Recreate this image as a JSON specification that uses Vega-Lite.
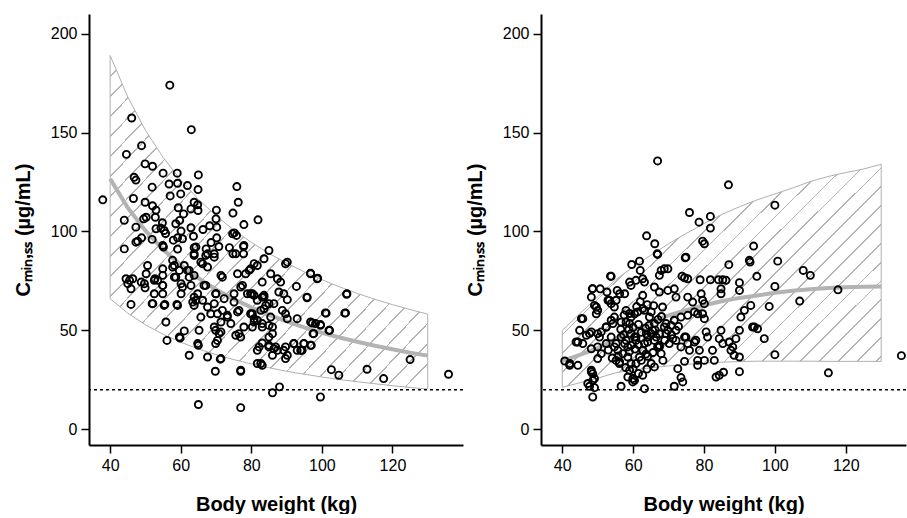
{
  "$schema": "https://vega.github.io/schema/vega-lite/v6.json",
  "background": "white",
  "padding": {"left": 13, "top": 14, "right": 0, "bottom": 0},
  "spacing": 1,
  "config": {
    "view": {"stroke": null},
    "font": "Liberation Sans",
    "axis": {
      "grid": false,
      "domainColor": "black",
      "domainWidth": 2,
      "tickColor": "black",
      "tickWidth": 1.5,
      "tickSize": 8,
      "labelFont": "Liberation Sans",
      "labelFontSize": 16,
      "labelColor": "black",
      "labelPadding": 4,
      "labelFlush": false,
      "titleFont": "Liberation Sans",
      "titleFontSize": 20,
      "titleFontWeight": "bold",
      "titleColor": "black"
    },
    "axisX": {"titlePadding": 21},
    "axisY": {"titlePadding": 17}
  },
  "datasets": {
    "bandA": [
      {"wt": 40, "lo": 66, "hi": 189, "med": 126.6},
      {"wt": 45, "lo": 58.7, "hi": 168, "med": 112},
      {"wt": 50, "lo": 52.8, "hi": 151.2, "med": 100.4},
      {"wt": 55, "lo": 48, "hi": 137.5, "med": 90.9},
      {"wt": 60, "lo": 44, "hi": 126, "med": 83},
      {"wt": 65, "lo": 40.6, "hi": 116.3, "med": 76.4},
      {"wt": 70, "lo": 37.7, "hi": 108, "med": 70.7},
      {"wt": 75, "lo": 35.2, "hi": 100.8, "med": 65.8},
      {"wt": 80, "lo": 33, "hi": 94.5, "med": 61.6},
      {"wt": 85, "lo": 31.1, "hi": 88.9, "med": 57.8},
      {"wt": 90, "lo": 29.3, "hi": 84, "med": 54.5},
      {"wt": 95, "lo": 27.8, "hi": 79.6, "med": 51.5},
      {"wt": 100, "lo": 26.4, "hi": 75.6, "med": 48.8},
      {"wt": 105, "lo": 25.1, "hi": 72, "med": 46.4},
      {"wt": 110, "lo": 24, "hi": 68.7, "med": 44.2},
      {"wt": 115, "lo": 23, "hi": 65.7, "med": 42.2},
      {"wt": 120, "lo": 22, "hi": 63, "med": 40.4},
      {"wt": 125, "lo": 21.1, "hi": 60.5, "med": 38.7},
      {"wt": 130, "lo": 20.3, "hi": 58.2, "med": 37.2}
    ],
    "bandB": [
      {"wt": 40, "lo": 21.2, "hi": 50, "med": 34.5},
      {"wt": 45, "lo": 23.5, "hi": 58.5, "med": 37.6},
      {"wt": 50, "lo": 25.8, "hi": 67, "med": 41},
      {"wt": 55, "lo": 28.5, "hi": 75.5, "med": 45.5},
      {"wt": 60, "lo": 30, "hi": 82, "med": 49.8},
      {"wt": 65, "lo": 31, "hi": 88, "med": 54},
      {"wt": 70, "lo": 32, "hi": 93.8, "med": 57.5},
      {"wt": 75, "lo": 32.8, "hi": 99, "med": 60.2},
      {"wt": 80, "lo": 33.4, "hi": 104, "med": 62.7},
      {"wt": 85, "lo": 33.9, "hi": 108.6, "med": 64.7},
      {"wt": 90, "lo": 34.2, "hi": 112.5, "med": 66.4},
      {"wt": 95, "lo": 34.4, "hi": 116, "med": 67.6},
      {"wt": 100, "lo": 34.4, "hi": 119, "med": 69},
      {"wt": 105, "lo": 34.4, "hi": 122, "med": 70},
      {"wt": 110, "lo": 34.4, "hi": 125.3, "med": 70.8},
      {"wt": 115, "lo": 34.3, "hi": 127.8, "med": 71.4},
      {"wt": 120, "lo": 34.3, "hi": 129.8, "med": 71.8},
      {"wt": 125, "lo": 34.3, "hi": 131.6, "med": 72.1},
      {"wt": 130, "lo": 34.3, "hi": 134, "med": 72.2}
    ],
    "ptsA": [
      {"wt":37.9,"c":116},{"wt":56.9,"c":174},{"wt":46.1,"c":157.4},{"wt":63,"c":151.5},{"wt":44.6,"c":139},{"wt":48.9,"c":143.4},
      {"wt":49.9,"c":134.2},{"wt":52,"c":133},{"wt":55,"c":129.5},{"wt":59,"c":129.5},{"wt":65,"c":128.6},{"wt":46.8,"c":127.4},
      {"wt":47.3,"c":126},{"wt":51.9,"c":122.4},{"wt":56.7,"c":124},{"wt":59.1,"c":124.4},{"wt":61.9,"c":123.2},{"wt":64.9,"c":121.2},
      {"wt":75.9,"c":122.7},{"wt":46.6,"c":116.7},{"wt":49.9,"c":114.8},{"wt":57,"c":118},{"wt":60,"c":119},{"wt":52,"c":113},
      {"wt":53,"c":110.8},{"wt":59.3,"c":112},{"wt":63.8,"c":114.8},{"wt":64.8,"c":113.5},{"wt":64.9,"c":110.6},{"wt":62.9,"c":111.4},
      {"wt":70.1,"c":110.8},{"wt":76.3,"c":114.8},{"wt":74.8,"c":109.3},{"wt":60.8,"c":108.9},{"wt":52.8,"c":107.2},{"wt":49.5,"c":106.4},
      {"wt":44,"c":105.7},{"wt":54.8,"c":104.4},{"wt":59.7,"c":105.6},{"wt":70,"c":106.4},{"wt":77.9,"c":103.5},{"wt":81.9,"c":105.9},
      {"wt":47.3,"c":102.2},{"wt":54.4,"c":101.7},{"wt":55.3,"c":100.5},{"wt":60.1,"c":100.2},{"wt":62.9,"c":101.9},{"wt":66.3,"c":101},
      {"wt":68.2,"c":102.9},{"wt":70.2,"c":102.2},{"wt":55.7,"c":99},{"wt":63.6,"c":97.6},{"wt":75.8,"c":98},{"wt":75.2,"c":99.3},
      {"wt":51.9,"c":96},{"wt":48.9,"c":96.8},{"wt":47.8,"c":95.1},{"wt":57.9,"c":95.6},{"wt":59.1,"c":96.8},{"wt":68.6,"c":94.4},
      {"wt":70.2,"c":96.8},{"wt":44,"c":91.2},{"wt":55.1,"c":92.1},{"wt":59.1,"c":91.1},{"wt":63.8,"c":91.8},{"wt":67.2,"c":91.2},
      {"wt":70.8,"c":92.4},{"wt":73.8,"c":91.8},{"wt":77.8,"c":92.4},{"wt":74.8,"c":88.7},{"wt":77.8,"c":88.7},{"wt":85,"c":90.4},
      {"wt":63.8,"c":88.7},{"wt":67.6,"c":88.7},
      {"wt":57.7,"c":85.4},{"wt":58.2,"c":82.8},{"wt":59.6,"c":80.3},{"wt":58.2,"c":76.9},{"wt":60.1,"c":73.6},{"wt":60.1,"c":68.5},
      {"wt":60.5,"c":71.9},{"wt":61.9,"c":80.3},{"wt":62.4,"c":76.9},{"wt":63.8,"c":77.8},{"wt":62.9,"c":72.7},{"wt":63.8,"c":66.8},
      {"wt":64.8,"c":68.5},{"wt":63.8,"c":62.6},{"wt":61,"c":82.8},{"wt":63.8,"c":87.9},{"wt":65.7,"c":84.5},{"wt":67.6,"c":82},
      {"wt":67.1,"c":87.9},{"wt":66.2,"c":65.2},{"wt":66.6,"c":72.7},{"wt":65.7,"c":56.7},{"wt":67.6,"c":61.8},{"wt":69.5,"c":63.5},
      {"wt":69.9,"c":68.5},{"wt":70.4,"c":58.4},{"wt":71.4,"c":54.2},{"wt":71.8,"c":60.1},{"wt":72.3,"c":66},{"wt":69.9,"c":50},
      {"wt":70.4,"c":44.9},{"wt":71.4,"c":49.2},{"wt":73.2,"c":56.7},{"wt":74.2,"c":53.4},{"wt":75.1,"c":64.3},{"wt":71.4,"c":77.8},
      {"wt":71.8,"c":76.9},{"wt":69.5,"c":88.7},{"wt":76.1,"c":78.6},{"wt":75.1,"c":68.5},{"wt":77,"c":71.9},{"wt":76.1,"c":59.3},
      {"wt":78.9,"c":68.5},{"wt":78.4,"c":78.6},{"wt":79.8,"c":81.1},{"wt":80.8,"c":83.7},{"wt":81.7,"c":82.8},{"wt":83.6,"c":86.2},
      {"wt":79.8,"c":68.5},{"wt":80.8,"c":67.7},{"wt":81.7,"c":65.2},{"wt":79.8,"c":58.4},{"wt":80.8,"c":55.9},{"wt":81.7,"c":55.1},
      {"wt":82.7,"c":60.1},{"wt":83.6,"c":66.8},{"wt":83.6,"c":60.9},{"wt":84.1,"c":62.6},{"wt":85.5,"c":78.6},{"wt":83.1,"c":74.4},
      {"wt":80.8,"c":54.2},{"wt":77.9,"c":51.7},{"wt":77,"c":46.6},{"wt":83.1,"c":53.4},{"wt":85,"c":52.5},{"wt":86,"c":51.7},
      {"wt":86,"c":48.3},{"wt":86.4,"c":63.5},{"wt":87.4,"c":76.1},{"wt":88.3,"c":74.4},{"wt":87.8,"c":69.4},{"wt":89.2,"c":68.5},
      {"wt":90.2,"c":65.5},{"wt":90.2,"c":84.5},{"wt":89.7,"c":83.7},{"wt":88.8,"c":60.1},{"wt":89.7,"c":58.4},{"wt":90.2,"c":55.9},
      {"wt":93,"c":55.9},{"wt":95.8,"c":66.8},{"wt":96.8,"c":78.6},{"wt":98.7,"c":76.1},{"wt":96.8,"c":54.2},{"wt":98.2,"c":53.4},
      {"wt":99.6,"c":52.5},{"wt":102,"c":50},{"wt":97.7,"c":48.3},{"wt":101,"c":58.8},{"wt":106.7,"c":58.8},{"wt":107.1,"c":68.5},
      {"wt":83.1,"c":43.6},{"wt":85,"c":42.4},{"wt":86.4,"c":40.7},{"wt":86,"c":37.4},{"wt":86.9,"c":41.6},{"wt":81.7,"c":39.9},
      {"wt":81.7,"c":33.2},{"wt":83.1,"c":32.3},{"wt":89.2,"c":39.9},{"wt":89.7,"c":35.7},{"wt":90.2,"c":37.4},{"wt":92.1,"c":43.3},
      {"wt":93,"c":39.9},{"wt":94.4,"c":39.9},{"wt":94.9,"c":43.3},{"wt":96.8,"c":42.4},{"wt":89.7,"c":41.6},
      {"wt":50.6,"c":82.8},{"wt":44.5,"c":76.1},{"wt":46.4,"c":76.1},{"wt":45,"c":73.6},{"wt":45.9,"c":71},{"wt":48.8,"c":74.4},
      {"wt":50.2,"c":78.6},{"wt":49.9,"c":71.5},{"wt":52.7,"c":76.1},{"wt":53.5,"c":75.3},{"wt":54.9,"c":81.1},{"wt":54.9,"c":77.8},
      {"wt":54.9,"c":72.7},{"wt":54.9,"c":68.5},{"wt":52.5,"c":68.5},{"wt":51.9,"c":63.5},{"wt":45.9,"c":63.1},{"wt":55.5,"c":63.1},
      {"wt":58.9,"c":63.1},{"wt":55.8,"c":54.2},{"wt":56.1,"c":44.9},{"wt":61,"c":49.7},{"wt":59.8,"c":46.1},{"wt":62.4,"c":37.4},
      {"wt":65,"c":42.4},{"wt":67.6,"c":36.5},{"wt":71.2,"c":35.4},{"wt":69.8,"c":29.3},{"wt":77,"c":29.3},{"wt":65,"c":12.5},
      {"wt":77,"c":10.9},{"wt":86,"c":18.4},{"wt":88,"c":21.4},{"wt":99.6,"c":16.3},{"wt":102.7,"c":30.1},{"wt":104.8,"c":27.3},
      {"wt":112.8,"c":30.3},{"wt":117.5,"c":25.6},{"wt":125,"c":35.2},{"wt":135.9,"c":27.8},
      {"wt":59.1,"c":62.6},{"wt":64.3,"c":65.2},{"wt":67.1,"c":72.7},{"wt":70,"c":68.5},{"wt":68.5,"c":58.4},{"wt":69.5,"c":51.7},
      {"wt":70.9,"c":48.3},{"wt":73.2,"c":57.6},{"wt":76.5,"c":60.1},{"wt":75.6,"c":47.5},{"wt":80.3,"c":58.4},{"wt":83.1,"c":51.7},
      {"wt":85,"c":41.6},{"wt":87.4,"c":39.9},{"wt":65.2,"c":50},{"wt":63.4,"c":64.3},{"wt":58.6,"c":76.9},{"wt":57.7,"c":82},
      {"wt":62.4,"c":80.3},{"wt":66.2,"c":83.7},{"wt":69.5,"c":87},{"wt":64.3,"c":92.1},{"wt":60.5,"c":96.3},{"wt":54.9,"c":92.9},
      {"wt":53,"c":101.4},{"wt":50.2,"c":107.2},{"wt":58.6,"c":103.9},{"wt":47.3,"c":94.6},{"wt":45.5,"c":75.3},{"wt":49.7,"c":73.6},
      {"wt":52.5,"c":75.3},{"wt":54.9,"c":72.7},{"wt":52.1,"c":63.5},{"wt":55.3,"c":62.6},{"wt":77.5,"c":72.7},{"wt":79.4,"c":80.3},
      {"wt":75.6,"c":88.7},{"wt":77.9,"c":92.9},{"wt":74.7,"c":98.8},{"wt":80.3,"c":68.5},{"wt":83.6,"c":67.7},{"wt":85,"c":63.5},
      {"wt":85.5,"c":56.7},{"wt":80.3,"c":51.7},{"wt":85,"c":46.6},{"wt":82.2,"c":41.6},{"wt":82.7,"c":33.2},{"wt":77,"c":29.8},
      {"wt":71.4,"c":35.7},{"wt":59.6,"c":46.6},{"wt":64.8,"c":43.3},{"wt":69.9,"c":43.3},{"wt":76.5,"c":48.3},
      {"wt":96.8,"c":78.9},{"wt":98.8,"c":76.4},{"wt":92.8,"c":72.2},{"wt":95.8,"c":66.5},{"wt":107,"c":68.2},{"wt":106.5,"c":58.7},
      {"wt":101.2,"c":58.7},{"wt":97.3,"c":53.7},{"wt":99.6,"c":52.9},{"wt":102.2,"c":50},{"wt":97.5,"c":48.3},{"wt":94.9,"c":43.3},
      {"wt":97,"c":42.4},{"wt":92,"c":43.3},{"wt":94,"c":39.9},{"wt":83.1,"c":66.8}
    ],
    "ptsB": [
      {"wt":66.9,"c":135.7},{"wt":86.9,"c":123.6},{"wt":100,"c":113.3},{"wt":75.9,"c":109.6},{"wt":81.8,"c":107.6},{"wt":78.6,"c":104.7},
      {"wt":81.8,"c":101.7},{"wt":63.8,"c":97.8},{"wt":66.1,"c":93.8},{"wt":79.6,"c":95.1},{"wt":80.1,"c":93.8},{"wt":94,"c":92.6},
      {"wt":66.9,"c":88.4},{"wt":74.7,"c":86.7},{"wt":61.8,"c":85},{"wt":92.8,"c":85.4},{"wt":100.8,"c":85},
      {"wt":59.6,"c":83.3},{"wt":62,"c":80.3},{"wt":87,"c":83.2},{"wt":93,"c":84.5},{"wt":108,"c":80.3},{"wt":110,"c":77.8},
      {"wt":94.9,"c":77.3},{"wt":53.6,"c":77.4},{"wt":67.9,"c":80.3},{"wt":68.8,"c":81.1},{"wt":69.8,"c":81.1},{"wt":67.4,"c":77.8},
      {"wt":73.8,"c":77.4},{"wt":74.5,"c":76.6},{"wt":75.4,"c":76.1},{"wt":78.9,"c":75.6},{"wt":81.8,"c":75.6},{"wt":84.1,"c":75.6},
      {"wt":85.3,"c":75.6},{"wt":86.2,"c":75.3},{"wt":90,"c":74.1},{"wt":90,"c":70.2},{"wt":84.8,"c":71},{"wt":84.8,"c":68.5},
      {"wt":100,"c":72.2},{"wt":117.8,"c":70.5},{"wt":48.5,"c":71},{"wt":50.7,"c":71},{"wt":52.6,"c":69.4},{"wt":55.5,"c":70.2},
      {"wt":56.2,"c":68.5},{"wt":57.6,"c":68.5},{"wt":55.2,"c":65.2},{"wt":59,"c":74.4},{"wt":59.4,"c":72.7},{"wt":60.8,"c":75.3},
      {"wt":62.7,"c":76.1},{"wt":63.2,"c":74.4},{"wt":48.2,"c":66.8},{"wt":49.1,"c":62.6},{"wt":50,"c":60.1},{"wt":49.6,"c":58.4},
      {"wt":45.8,"c":55.9},{"wt":52.9,"c":65.2},{"wt":53.8,"c":63.5},{"wt":54.7,"c":61.8},
      {"wt":62.7,"c":67.7},{"wt":66,"c":71.9},{"wt":67.4,"c":69.4},{"wt":69.8,"c":70.2},{"wt":71.6,"c":71},{"wt":72.1,"c":66.8},
      {"wt":75.4,"c":66.8},{"wt":76.8,"c":64.3},{"wt":79.2,"c":68.5},{"wt":79.6,"c":65.2},{"wt":80.1,"c":63.5},{"wt":77.3,"c":59.3},
      {"wt":78.2,"c":58.4},{"wt":79.6,"c":58.4},{"wt":80.1,"c":55.9},{"wt":75.4,"c":57.6},{"wt":73.5,"c":56.7},{"wt":71.6,"c":55.1},
      {"wt":70.7,"c":52.5},{"wt":68.8,"c":51.7},{"wt":66,"c":53.4},{"wt":65.1,"c":59.3},{"wt":63.2,"c":60.1},{"wt":61.3,"c":59.3},
      {"wt":60.4,"c":58.4},{"wt":59.4,"c":56.7},{"wt":58,"c":54.2},{"wt":56.6,"c":54.2},{"wt":54.7,"c":56.7},{"wt":53.8,"c":55.1},
      {"wt":52.4,"c":51.7},{"wt":51,"c":49.2},{"wt":50,"c":48.3},{"wt":48.2,"c":49.2},{"wt":46.8,"c":47.5},{"wt":44.9,"c":50},
      {"wt":43.9,"c":44.1},{"wt":42.1,"c":32.3},{"wt":44.4,"c":32.3},{"wt":40.7,"c":34.5},{"wt":48.2,"c":40.7},{"wt":50,"c":41.6},
      {"wt":51,"c":38.2},{"wt":48.2,"c":29.8},{"wt":48.6,"c":24.7},{"wt":47.2,"c":23.1},{"wt":49.1,"c":25.6},{"wt":47.7,"c":21.7},
      {"wt":50,"c":35.7},{"wt":52.4,"c":43.3},{"wt":53.8,"c":46.6},{"wt":54.7,"c":41.6},{"wt":55.7,"c":39.9},{"wt":56.2,"c":34},
      {"wt":57.6,"c":43.3},{"wt":58.5,"c":41.6},{"wt":56.6,"c":46.6},{"wt":59.4,"c":48.3},{"wt":60.4,"c":46.6},{"wt":60.8,"c":44.9},
      {"wt":58.5,"c":36.5},{"wt":59.4,"c":33.2},{"wt":59,"c":29.8},{"wt":59.9,"c":25.6},{"wt":60.4,"c":24.7},{"wt":62.3,"c":34.8},
      {"wt":62.7,"c":39.9},{"wt":63.2,"c":43.3},{"wt":64.1,"c":46.6},{"wt":65.1,"c":48.3},{"wt":66,"c":44.9},{"wt":66.9,"c":41.6},
      {"wt":67.9,"c":38.2},{"wt":68.4,"c":34.8},{"wt":67.4,"c":42.4},{"wt":69.3,"c":48.3},{"wt":69.8,"c":50},{"wt":71.2,"c":45.8},
      {"wt":72.1,"c":44.9},{"wt":74.5,"c":46.6},{"wt":73.5,"c":41.6},{"wt":75.4,"c":43.3},{"wt":75.9,"c":39.9},{"wt":77.3,"c":44.1},
      {"wt":78.7,"c":39.9},{"wt":80.6,"c":49.2},{"wt":81,"c":46.6},{"wt":78.2,"c":34.8},{"wt":80.1,"c":34.8},{"wt":82.9,"c":34.8},
      {"wt":82.4,"c":39.9},{"wt":84.3,"c":45.8},{"wt":84.8,"c":50},{"wt":85.3,"c":43.3},{"wt":88.1,"c":41.6},{"wt":88.5,"c":37.4},
      {"wt":90,"c":36.5},{"wt":87.6,"c":39.9},{"wt":87.1,"c":44.1},{"wt":89,"c":45.8},{"wt":90,"c":50},{"wt":90.4,"c":56.7},
      {"wt":91.4,"c":60.1},{"wt":93.2,"c":62.6},{"wt":93.7,"c":51.7},{"wt":94.2,"c":51.7},{"wt":95.1,"c":50.8},{"wt":97,"c":45.8},
      {"wt":98.4,"c":62.1},{"wt":100,"c":37.7},{"wt":107,"c":64.8},{"wt":115.1,"c":28.5},{"wt":135.7,"c":37.2},{"wt":90,"c":29.1},
      {"wt":85.5,"c":28.8},{"wt":84.3,"c":27.3},{"wt":83.4,"c":26.4},{"wt":78.2,"c":32.3},{"wt":74.5,"c":34.3},{"wt":72.6,"c":30.6},
      {"wt":73.5,"c":26.1},{"wt":74,"c":23.9},{"wt":71.6,"c":21.7},{"wt":63.2,"c":20.5},{"wt":62.7,"c":27.3},{"wt":56.6,"c":21.7},
      {"wt":58.5,"c":26.4},{"wt":59.9,"c":23.9},{"wt":49.1,"c":21},{"wt":48.6,"c":16.3},{"wt":48.2,"c":29},{"wt":64.1,"c":36.9},
      {"wt":65.1,"c":33.2},{"wt":66,"c":31.5},
      {"wt":58,"c":45},{"wt":59.4,"c":42.4},{"wt":60.8,"c":46.6},{"wt":62.7,"c":39.9},{"wt":64.1,"c":44.1},{"wt":65.5,"c":50},
      {"wt":67.4,"c":48.3},{"wt":69.3,"c":53.4},{"wt":67.4,"c":41.6},{"wt":70.2,"c":43.3},{"wt":55.2,"c":43.3},{"wt":56.1,"c":33.2},
      {"wt":55.2,"c":34.8},{"wt":60.8,"c":33.2},{"wt":61.8,"c":36.5},{"wt":57.1,"c":38.2},{"wt":54.3,"c":53.4},{"wt":52.4,"c":51.7},
      {"wt":50.5,"c":46.6},{"wt":47.7,"c":48.3},{"wt":45.8,"c":43.3},{"wt":44.4,"c":44.1},{"wt":42.1,"c":33.2},{"wt":48.6,"c":28.1},
      {"wt":64.6,"c":56.7},{"wt":68.3,"c":61.8},{"wt":72.1,"c":50},{"wt":74.9,"c":46.6},{"wt":77.7,"c":45},{"wt":66.5,"c":46.6},
      {"wt":63.7,"c":48.3},{"wt":59,"c":53.4},{"wt":62.7,"c":61},{"wt":58,"c":60.1},{"wt":53.3,"c":65.2},{"wt":49.6,"c":61.8},
      {"wt":45.4,"c":55.9},{"wt":66.8,"c":88.7},{"wt":53.8,"c":77.3},{"wt":48.6,"c":71.1},{"wt":74.9,"c":87},
      {"wt":56.5,"c":50.5},{"wt":57.3,"c":47.8},{"wt":58.8,"c":50.5},{"wt":60,"c":51.5},{"wt":61.5,"c":53},{"wt":62.3,"c":49},
      {"wt":63.5,"c":51},{"wt":64.5,"c":52.5},{"wt":66.2,"c":50.2},{"wt":67,"c":55.5},{"wt":68,"c":57},{"wt":57.5,"c":57.8},
      {"wt":59,"c":58.5},{"wt":61,"c":62},{"wt":62,"c":64.5},{"wt":64,"c":63},{"wt":65.8,"c":62.5},{"wt":60.5,"c":40.5},
      {"wt":61.5,"c":42.8},{"wt":63.6,"c":38},{"wt":58.9,"c":39.2},{"wt":57.9,"c":31.2},{"wt":60,"c":30.5},{"wt":61.5,"c":28.2},
      {"wt":63.9,"c":30.4},{"wt":65.6,"c":38.8},{"wt":68.9,"c":45},{"wt":70.8,"c":47.8},{"wt":72.8,"c":52},{"wt":55.8,"c":37},
      {"wt":54.1,"c":36},{"wt":53,"c":40}
    ]
  },
  "hconcat": [
    {
      "width": 374,
      "height": 431,
      "layer": [
        {
          "data": {"name": "bandA"},
          "mark": {
            "type": "area",
            "stroke": "#b0b0b0",
            "strokeWidth": 1,
            "fill": {
              "gradient": "linear", "x1": 0, "y1": 0, "x2": 1, "y2": 1,
              "stops": [
                {"offset":0,"color":"#ffffff"},
                {"offset":0.03,"color":"#ffffff"},{"offset":0.03,"color":"#b4b4b4"},{"offset":0.0328,"color":"#b4b4b4"},{"offset":0.0328,"color":"#ffffff"},
                {"offset":0.06,"color":"#ffffff"},{"offset":0.06,"color":"#b4b4b4"},{"offset":0.0628,"color":"#b4b4b4"},{"offset":0.0628,"color":"#ffffff"},
                {"offset":0.09,"color":"#ffffff"},{"offset":0.09,"color":"#b4b4b4"},{"offset":0.0928,"color":"#b4b4b4"},{"offset":0.0928,"color":"#ffffff"},
                {"offset":0.12,"color":"#ffffff"},{"offset":0.12,"color":"#b4b4b4"},{"offset":0.1228,"color":"#b4b4b4"},{"offset":0.1228,"color":"#ffffff"},
                {"offset":0.15,"color":"#ffffff"},{"offset":0.15,"color":"#b4b4b4"},{"offset":0.1528,"color":"#b4b4b4"},{"offset":0.1528,"color":"#ffffff"},
                {"offset":0.18,"color":"#ffffff"},{"offset":0.18,"color":"#b4b4b4"},{"offset":0.1828,"color":"#b4b4b4"},{"offset":0.1828,"color":"#ffffff"},
                {"offset":0.21,"color":"#ffffff"},{"offset":0.21,"color":"#b4b4b4"},{"offset":0.2128,"color":"#b4b4b4"},{"offset":0.2128,"color":"#ffffff"},
                {"offset":0.24,"color":"#ffffff"},{"offset":0.24,"color":"#b4b4b4"},{"offset":0.2428,"color":"#b4b4b4"},{"offset":0.2428,"color":"#ffffff"},
                {"offset":0.27,"color":"#ffffff"},{"offset":0.27,"color":"#b4b4b4"},{"offset":0.2728,"color":"#b4b4b4"},{"offset":0.2728,"color":"#ffffff"},
                {"offset":0.30,"color":"#ffffff"},{"offset":0.30,"color":"#b4b4b4"},{"offset":0.3028,"color":"#b4b4b4"},{"offset":0.3028,"color":"#ffffff"},
                {"offset":0.33,"color":"#ffffff"},{"offset":0.33,"color":"#b4b4b4"},{"offset":0.3328,"color":"#b4b4b4"},{"offset":0.3328,"color":"#ffffff"},
                {"offset":0.36,"color":"#ffffff"},{"offset":0.36,"color":"#b4b4b4"},{"offset":0.3628,"color":"#b4b4b4"},{"offset":0.3628,"color":"#ffffff"},
                {"offset":0.39,"color":"#ffffff"},{"offset":0.39,"color":"#b4b4b4"},{"offset":0.3928,"color":"#b4b4b4"},{"offset":0.3928,"color":"#ffffff"},
                {"offset":0.42,"color":"#ffffff"},{"offset":0.42,"color":"#b4b4b4"},{"offset":0.4228,"color":"#b4b4b4"},{"offset":0.4228,"color":"#ffffff"},
                {"offset":0.45,"color":"#ffffff"},{"offset":0.45,"color":"#b4b4b4"},{"offset":0.4528,"color":"#b4b4b4"},{"offset":0.4528,"color":"#ffffff"},
                {"offset":0.48,"color":"#ffffff"},{"offset":0.48,"color":"#b4b4b4"},{"offset":0.4828,"color":"#b4b4b4"},{"offset":0.4828,"color":"#ffffff"},
                {"offset":0.51,"color":"#ffffff"},{"offset":0.51,"color":"#b4b4b4"},{"offset":0.5128,"color":"#b4b4b4"},{"offset":0.5128,"color":"#ffffff"},
                {"offset":0.54,"color":"#ffffff"},{"offset":0.54,"color":"#b4b4b4"},{"offset":0.5428,"color":"#b4b4b4"},{"offset":0.5428,"color":"#ffffff"},
                {"offset":0.57,"color":"#ffffff"},{"offset":0.57,"color":"#b4b4b4"},{"offset":0.5728,"color":"#b4b4b4"},{"offset":0.5728,"color":"#ffffff"},
                {"offset":0.60,"color":"#ffffff"},{"offset":0.60,"color":"#b4b4b4"},{"offset":0.6028,"color":"#b4b4b4"},{"offset":0.6028,"color":"#ffffff"},
                {"offset":0.63,"color":"#ffffff"},{"offset":0.63,"color":"#b4b4b4"},{"offset":0.6328,"color":"#b4b4b4"},{"offset":0.6328,"color":"#ffffff"},
                {"offset":0.66,"color":"#ffffff"},{"offset":0.66,"color":"#b4b4b4"},{"offset":0.6628,"color":"#b4b4b4"},{"offset":0.6628,"color":"#ffffff"},
                {"offset":0.69,"color":"#ffffff"},{"offset":0.69,"color":"#b4b4b4"},{"offset":0.6928,"color":"#b4b4b4"},{"offset":0.6928,"color":"#ffffff"},
                {"offset":0.72,"color":"#ffffff"},{"offset":0.72,"color":"#b4b4b4"},{"offset":0.7228,"color":"#b4b4b4"},{"offset":0.7228,"color":"#ffffff"},
                {"offset":0.75,"color":"#ffffff"},{"offset":0.75,"color":"#b4b4b4"},{"offset":0.7528,"color":"#b4b4b4"},{"offset":0.7528,"color":"#ffffff"},
                {"offset":0.78,"color":"#ffffff"},{"offset":0.78,"color":"#b4b4b4"},{"offset":0.7828,"color":"#b4b4b4"},{"offset":0.7828,"color":"#ffffff"},
                {"offset":0.81,"color":"#ffffff"},{"offset":0.81,"color":"#b4b4b4"},{"offset":0.8128,"color":"#b4b4b4"},{"offset":0.8128,"color":"#ffffff"},
                {"offset":0.84,"color":"#ffffff"},{"offset":0.84,"color":"#b4b4b4"},{"offset":0.8428,"color":"#b4b4b4"},{"offset":0.8428,"color":"#ffffff"},
                {"offset":0.87,"color":"#ffffff"},{"offset":0.87,"color":"#b4b4b4"},{"offset":0.8728,"color":"#b4b4b4"},{"offset":0.8728,"color":"#ffffff"},
                {"offset":0.90,"color":"#ffffff"},{"offset":0.90,"color":"#b4b4b4"},{"offset":0.9028,"color":"#b4b4b4"},{"offset":0.9028,"color":"#ffffff"},
                {"offset":0.93,"color":"#ffffff"},{"offset":0.93,"color":"#b4b4b4"},{"offset":0.9328,"color":"#b4b4b4"},{"offset":0.9328,"color":"#ffffff"},
                {"offset":0.96,"color":"#ffffff"},{"offset":0.96,"color":"#b4b4b4"},{"offset":0.9628,"color":"#b4b4b4"},{"offset":0.9628,"color":"#ffffff"},
                {"offset":1,"color":"#ffffff"}
              ]
            }
          },
          "encoding": {
            "x": {"field": "wt", "type": "quantitative", "scale": {"domain": [34, 140], "nice": false, "zero": false},
                  "axis": {"title": "Body weight (kg)", "values": [40, 60, 80, 100, 120]}},
            "y": {"field": "hi", "type": "quantitative", "scale": {"domain": [-8, 210], "nice": false, "zero": false},
                  "axis": {"title": "Cₘᵢₙ,ₛₛ (µg/mL)", "values": [0, 50, 100, 150, 200]}},
            "y2": {"field": "lo"}
          }
        },
        {
          "data": {"values": [{"ref": 20}]},
          "mark": {"type": "rule", "color": "black", "strokeWidth": 1.5, "strokeDash": [3, 3]},
          "encoding": {"y": {"field": "ref", "type": "quantitative"}}
        },
        {
          "data": {"name": "bandA"},
          "mark": {"type": "line", "color": "#b3b3b3", "strokeWidth": 4},
          "encoding": {
            "x": {"field": "wt", "type": "quantitative"},
            "y": {"field": "med", "type": "quantitative"}
          }
        },
        {
          "data": {"name": "ptsA"},
          "mark": {"type": "point", "shape": "circle", "filled": false, "color": "black", "strokeWidth": 1.9, "size": 50, "opacity": 1},
          "encoding": {
            "x": {"field": "wt", "type": "quantitative"},
            "y": {"field": "c", "type": "quantitative"}
          }
        }
      ]
    },
    {
      "width": 365,
      "height": 431,
      "layer": [
        {
          "data": {"name": "bandB"},
          "mark": {
            "type": "area",
            "stroke": "#b0b0b0",
            "strokeWidth": 1,
            "fill": {
              "gradient": "linear", "x1": 0, "y1": 0, "x2": 1.324, "y2": 0.93,
              "stops": [
                {"offset":0,"color":"#ffffff"},
                {"offset":0.03,"color":"#ffffff"},{"offset":0.03,"color":"#b4b4b4"},{"offset":0.0328,"color":"#b4b4b4"},{"offset":0.0328,"color":"#ffffff"},
                {"offset":0.06,"color":"#ffffff"},{"offset":0.06,"color":"#b4b4b4"},{"offset":0.0628,"color":"#b4b4b4"},{"offset":0.0628,"color":"#ffffff"},
                {"offset":0.09,"color":"#ffffff"},{"offset":0.09,"color":"#b4b4b4"},{"offset":0.0928,"color":"#b4b4b4"},{"offset":0.0928,"color":"#ffffff"},
                {"offset":0.12,"color":"#ffffff"},{"offset":0.12,"color":"#b4b4b4"},{"offset":0.1228,"color":"#b4b4b4"},{"offset":0.1228,"color":"#ffffff"},
                {"offset":0.15,"color":"#ffffff"},{"offset":0.15,"color":"#b4b4b4"},{"offset":0.1528,"color":"#b4b4b4"},{"offset":0.1528,"color":"#ffffff"},
                {"offset":0.18,"color":"#ffffff"},{"offset":0.18,"color":"#b4b4b4"},{"offset":0.1828,"color":"#b4b4b4"},{"offset":0.1828,"color":"#ffffff"},
                {"offset":0.21,"color":"#ffffff"},{"offset":0.21,"color":"#b4b4b4"},{"offset":0.2128,"color":"#b4b4b4"},{"offset":0.2128,"color":"#ffffff"},
                {"offset":0.24,"color":"#ffffff"},{"offset":0.24,"color":"#b4b4b4"},{"offset":0.2428,"color":"#b4b4b4"},{"offset":0.2428,"color":"#ffffff"},
                {"offset":0.27,"color":"#ffffff"},{"offset":0.27,"color":"#b4b4b4"},{"offset":0.2728,"color":"#b4b4b4"},{"offset":0.2728,"color":"#ffffff"},
                {"offset":0.30,"color":"#ffffff"},{"offset":0.30,"color":"#b4b4b4"},{"offset":0.3028,"color":"#b4b4b4"},{"offset":0.3028,"color":"#ffffff"},
                {"offset":0.33,"color":"#ffffff"},{"offset":0.33,"color":"#b4b4b4"},{"offset":0.3328,"color":"#b4b4b4"},{"offset":0.3328,"color":"#ffffff"},
                {"offset":0.36,"color":"#ffffff"},{"offset":0.36,"color":"#b4b4b4"},{"offset":0.3628,"color":"#b4b4b4"},{"offset":0.3628,"color":"#ffffff"},
                {"offset":0.39,"color":"#ffffff"},{"offset":0.39,"color":"#b4b4b4"},{"offset":0.3928,"color":"#b4b4b4"},{"offset":0.3928,"color":"#ffffff"},
                {"offset":0.42,"color":"#ffffff"},{"offset":0.42,"color":"#b4b4b4"},{"offset":0.4228,"color":"#b4b4b4"},{"offset":0.4228,"color":"#ffffff"},
                {"offset":0.45,"color":"#ffffff"},{"offset":0.45,"color":"#b4b4b4"},{"offset":0.4528,"color":"#b4b4b4"},{"offset":0.4528,"color":"#ffffff"},
                {"offset":0.48,"color":"#ffffff"},{"offset":0.48,"color":"#b4b4b4"},{"offset":0.4828,"color":"#b4b4b4"},{"offset":0.4828,"color":"#ffffff"},
                {"offset":0.51,"color":"#ffffff"},{"offset":0.51,"color":"#b4b4b4"},{"offset":0.5128,"color":"#b4b4b4"},{"offset":0.5128,"color":"#ffffff"},
                {"offset":0.54,"color":"#ffffff"},{"offset":0.54,"color":"#b4b4b4"},{"offset":0.5428,"color":"#b4b4b4"},{"offset":0.5428,"color":"#ffffff"},
                {"offset":0.57,"color":"#ffffff"},{"offset":0.57,"color":"#b4b4b4"},{"offset":0.5728,"color":"#b4b4b4"},{"offset":0.5728,"color":"#ffffff"},
                {"offset":0.60,"color":"#ffffff"},{"offset":0.60,"color":"#b4b4b4"},{"offset":0.6028,"color":"#b4b4b4"},{"offset":0.6028,"color":"#ffffff"},
                {"offset":0.63,"color":"#ffffff"},{"offset":0.63,"color":"#b4b4b4"},{"offset":0.6328,"color":"#b4b4b4"},{"offset":0.6328,"color":"#ffffff"},
                {"offset":0.66,"color":"#ffffff"},{"offset":0.66,"color":"#b4b4b4"},{"offset":0.6628,"color":"#b4b4b4"},{"offset":0.6628,"color":"#ffffff"},
                {"offset":0.69,"color":"#ffffff"},{"offset":0.69,"color":"#b4b4b4"},{"offset":0.6928,"color":"#b4b4b4"},{"offset":0.6928,"color":"#ffffff"},
                {"offset":0.72,"color":"#ffffff"},{"offset":0.72,"color":"#b4b4b4"},{"offset":0.7228,"color":"#b4b4b4"},{"offset":0.7228,"color":"#ffffff"},
                {"offset":0.75,"color":"#ffffff"},{"offset":0.75,"color":"#b4b4b4"},{"offset":0.7528,"color":"#b4b4b4"},{"offset":0.7528,"color":"#ffffff"},
                {"offset":0.78,"color":"#ffffff"},{"offset":0.78,"color":"#b4b4b4"},{"offset":0.7828,"color":"#b4b4b4"},{"offset":0.7828,"color":"#ffffff"},
                {"offset":0.81,"color":"#ffffff"},{"offset":0.81,"color":"#b4b4b4"},{"offset":0.8128,"color":"#b4b4b4"},{"offset":0.8128,"color":"#ffffff"},
                {"offset":0.84,"color":"#ffffff"},{"offset":0.84,"color":"#b4b4b4"},{"offset":0.8428,"color":"#b4b4b4"},{"offset":0.8428,"color":"#ffffff"},
                {"offset":1,"color":"#ffffff"}
              ]
            }
          },
          "encoding": {
            "x": {"field": "wt", "type": "quantitative", "scale": {"domain": [34, 137], "nice": false, "zero": false},
                  "axis": {"title": "Body weight (kg)", "values": [40, 60, 80, 100, 120]}},
            "y": {"field": "hi", "type": "quantitative", "scale": {"domain": [-8, 210], "nice": false, "zero": false},
                  "axis": {"title": "Cₘᵢₙ,ₛₛ (µg/mL)", "values": [0, 50, 100, 150, 200]}},
            "y2": {"field": "lo"}
          }
        },
        {
          "data": {"values": [{"ref": 20}]},
          "mark": {"type": "rule", "color": "black", "strokeWidth": 1.5, "strokeDash": [3, 3]},
          "encoding": {"y": {"field": "ref", "type": "quantitative"}}
        },
        {
          "data": {"name": "bandB"},
          "mark": {"type": "line", "color": "#b3b3b3", "strokeWidth": 4},
          "encoding": {
            "x": {"field": "wt", "type": "quantitative"},
            "y": {"field": "med", "type": "quantitative"}
          }
        },
        {
          "data": {"name": "ptsB"},
          "mark": {"type": "point", "shape": "circle", "filled": false, "color": "black", "strokeWidth": 1.9, "size": 50, "opacity": 1},
          "encoding": {
            "x": {"field": "wt", "type": "quantitative"},
            "y": {"field": "c", "type": "quantitative"}
          }
        }
      ]
    }
  ]
}
